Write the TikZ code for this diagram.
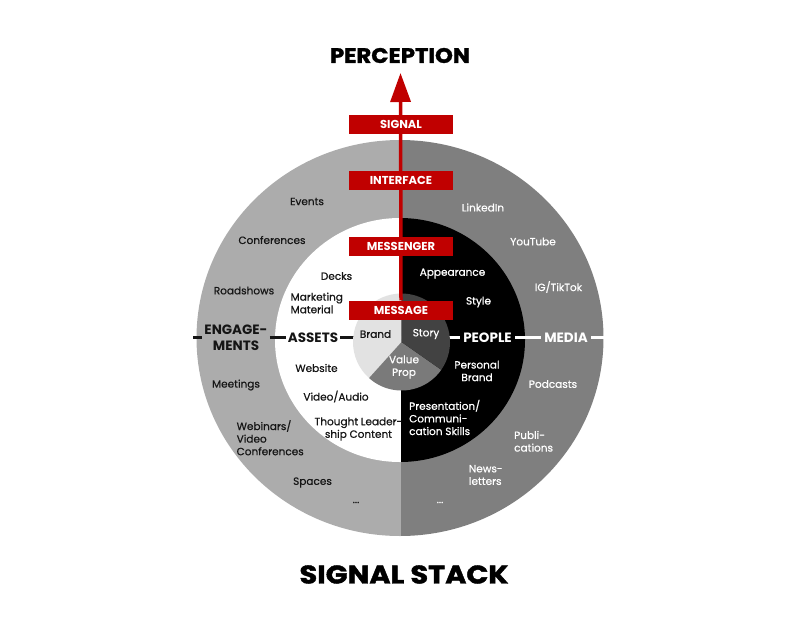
\documentclass[tikz,border=0pt]{standalone}
\usepackage{fontspec}
\usepackage{graphicx}
\setmainfont{Poppins}
\newfontfamily\medfont{Poppins}[FakeBold=0.6]
\newfontfamily\heavyfont{Poppins}[BoldFeatures={FakeBold=1.6}]
\usetikzlibrary{arrows.meta}
\definecolor{redc}{HTML}{C00000}
\definecolor{lgray}{HTML}{ACACAC}
\definecolor{dgray}{HTML}{7F7F7F}
\definecolor{brandc}{HTML}{E2E2E2}
\definecolor{storyc}{HTML}{424242}
\definecolor{valuec}{HTML}{7A7A7A}
\definecolor{inkc}{HTML}{151515}
\pgfdeclarelayer{back}
\pgfdeclarelayer{mid}
\pgfsetlayers{back,mid,main}
\tikzset{
  lab/.style={font=\medfont\fontsize{10.5}{12.6}\selectfont, inner sep=0pt, align=center},
  labD/.style={lab, text=inkc},
  labW/.style={lab, text=white},
  bigD/.style={font=\fontsize{13.5}{15.5}\selectfont\bfseries, inner sep=2pt, align=center, text=inkc},
  bigW/.style={font=\fontsize{13.5}{15.5}\selectfont\bfseries, inner sep=3.5pt, align=center, text=white},
  banner/.style={fill=redc, text=white, font=\fontsize{11.5}{12}\selectfont\bfseries, minimum width=104pt, minimum height=19pt, inner sep=0pt},
  conn/.style={line width=2.5pt},
}
\begin{document}
\begin{tikzpicture}[x=1pt,y=-1pt]
\useasboundingbox (0,0) rectangle (800,640);
% titles
\node[font=\heavyfont\fontsize{21}{21}\selectfont\bfseries, text=black, inner sep=0pt] (perception) at (400,55.5) {\scalebox{1.08}[1]{PERCEPTION}};
\node[font=\heavyfont\fontsize{25.5}{26}\selectfont\bfseries, text=black, inner sep=0pt] (title) at (404,574.5) {\scalebox{1.13}[1]{SIGNAL STACK}};
% banners
\node[banner] (signal) at (401,124.5) {SIGNAL};
\node[banner] (interface) at (401,180.5) {INTERFACE};
\node[banner] (messenger) at (401,246.5) {MESSENGER};
\node[banner] (message) at (401,310) {MESSAGE};
\coordinate (tip) at (400.5,73);
% section labels
\node[bigD] (engage) at (236,337.5) {ENGAGE-\\MENTS};
\node[bigD] (assets) at (313,337.5) {ASSETS};
\node[bigW] (people) at (487.5,337.5) {PEOPLE};
\node[bigW] (media) at (566,337.5) {MEDIA};
\coordinate (eL) at (193,337.5);
\coordinate (mR) at (607,337.5);
\coordinate (pc) at (401.5,342);
% pie labels
\node[labD] (brand) at (375.5,334) {Brand};
\node[labW] (story) at (426,334) {Story};
\node[labW] (value) at (404,367) {Value\\Prop};
% left ring
\node[labD] (events) at (307,201.5) {Events};
\node[labD] (conf) at (272,240) {Conferences};
\node[labD] (road) at (244,290.5) {Roadshows};
\node[labD] (meet) at (236,385) {Meetings};
\node[labD, anchor=west, align=left] (webinar) at (236.5,437.7) {Webinars/\\Video\\Conferences};
\node[labD] (spaces) at (312.5,482.5) {Spaces};
\node[labD] (ldots) at (356,502.5) {...};
% inner left
\node[labD] (decks) at (336.5,276) {Decks};
\node[labD, anchor=west, align=left] (mkt) at (290.5,303) {Marketing\\Material};
\node[labD] (web) at (316.5,368) {Website};
\node[labD] (video) at (336,396.5) {Video/Audio};
\node[labD] (thought) at (358.5,429) {Thought Leader-\\ship Content};
% inner right
\node[labW] (appear) at (452.5,273.5) {Appearance};
\node[labW] (style) at (478.5,302) {Style};
\node[labW] (pbrand) at (477,371) {Personal\\Brand};
\node[labW, anchor=west, align=left] (pres) at (409,417.5) {Presentation/\\Communi-\\cation Skills};
% right ring
\node[labW] (linkedin) at (483,207.5) {LinkedIn};
\node[labW] (youtube) at (533,241.5) {YouTube};
\node[labW] (igtt) at (558.5,287) {IG/TikTok};
\node[labW] (pod) at (553,384) {Podcasts};
\node[labW, anchor=west, align=left] (publi) at (514,441.3) {Publi-\\cations};
\node[labW, anchor=west, align=left] (news) at (468.7,475) {News-\\letters};
\node[labW] (rdots) at (440,502.5) {...};
% background shapes
\begin{pgfonlayer}{back}
\begin{scope}
\clip (0,0) rectangle (401,640);
\fill[lgray] (400,338) ellipse [x radius=203.5, y radius=198];
\fill[white] (400,340) ellipse [x radius=125, y radius=122];
\end{scope}
\begin{scope}
\clip (401,0) rectangle (800,640);
\fill[dgray] (400,338) ellipse [x radius=203.5, y radius=198];
\fill[black] (400,340) ellipse [x radius=125, y radius=122];
\end{scope}
\draw[conn, inkc] (eL) -- (engage.west);
\draw[conn, inkc] (engage.east) -- (assets.west);
\draw[conn, inkc] (assets.east) -- (assets.east -| pc);
\draw[conn, white] (people.west) -- (people.west -| pc);
\draw[conn, white] (people.east) -- (media.west);
\draw[conn, white] (media.east) -- (mR);
\fill[brandc] (pc) -- ++(-90:48.5) arc[start angle=-90, end angle=-228, radius=48.5] -- cycle;
\fill[valuec] (pc) -- ++(-228:48.5) arc[start angle=-228, end angle=-325, radius=48.5] -- cycle;
\fill[storyc] (pc) -- ++(-325:48.5) arc[start angle=-325, end angle=-450, radius=48.5] -- cycle;
\end{pgfonlayer}
\begin{pgfonlayer}{mid}
\draw[redc, line width=3.5pt, -{Triangle[length=29pt, width=20pt]}] (message.north) -- (tip);
\end{pgfonlayer}
\end{tikzpicture}
\end{document}
